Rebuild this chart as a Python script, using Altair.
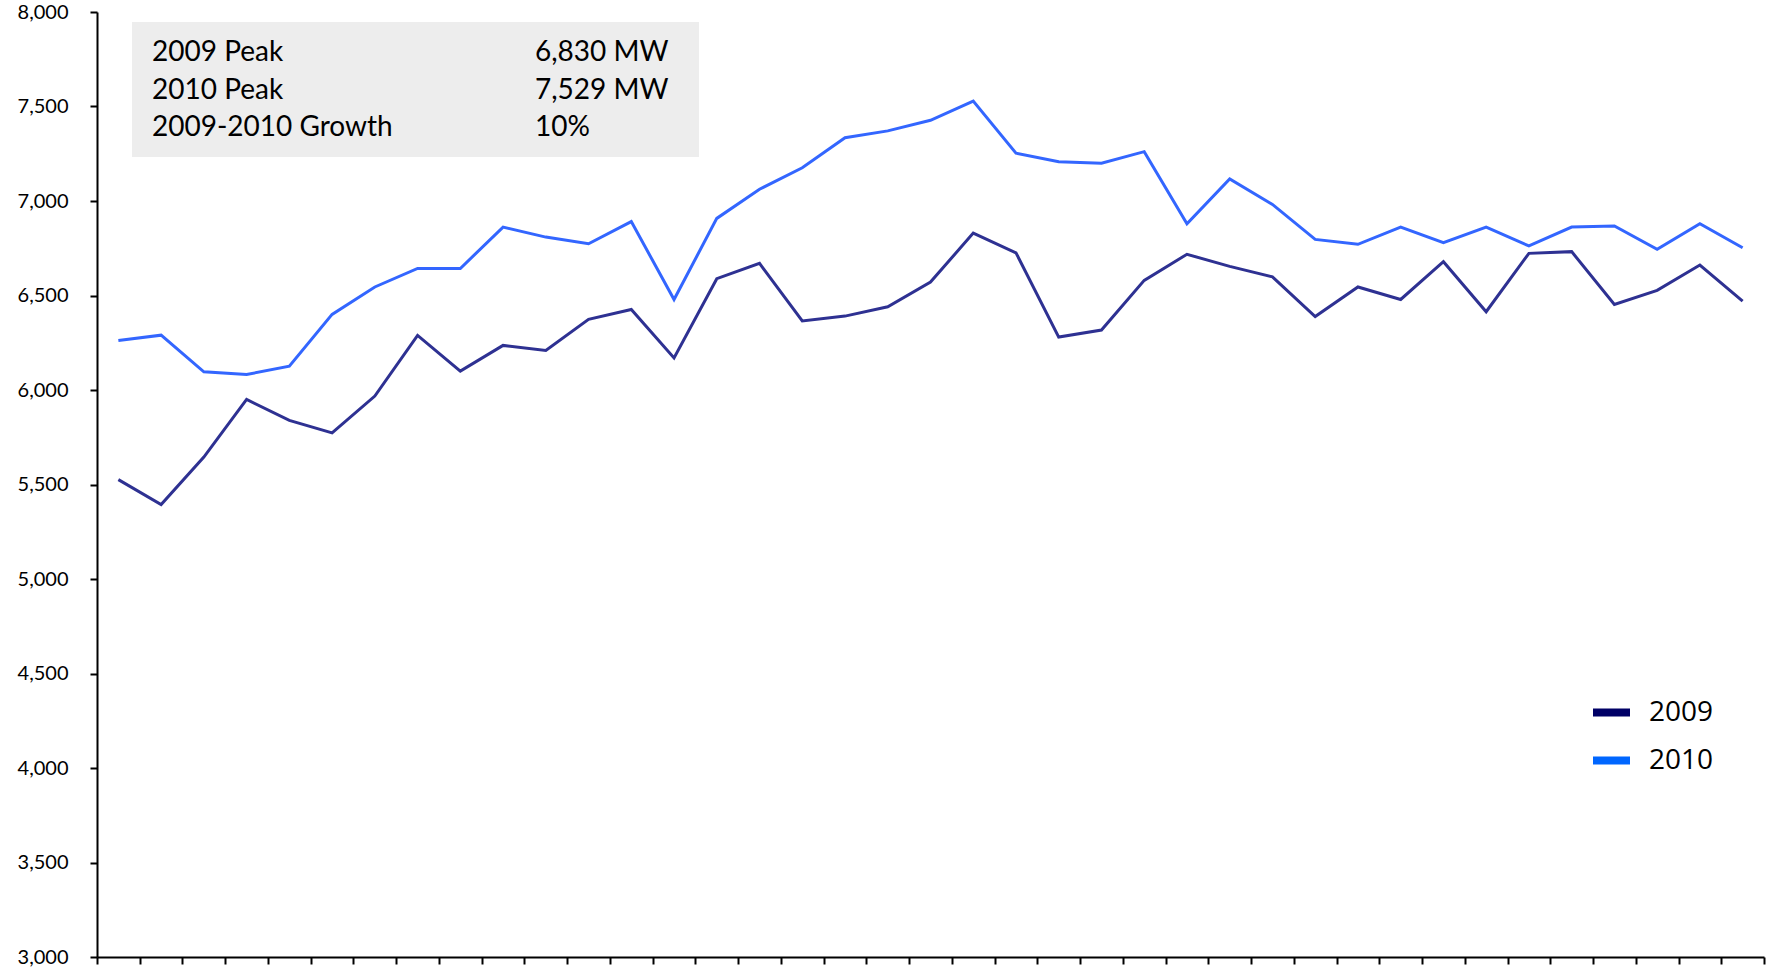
import altair as alt
import pandas as pd

# Weekly peak demand (MW), one value per week of the season
weeks = list(range(1, 40))
load_2009 = [5526, 5394, 5645, 5950, 5839, 5773, 5968, 6289, 6100, 6236,
             6209, 6374, 6426, 6170, 6589, 6670, 6365, 6391, 6440, 6571,
             6830, 6726, 6280, 6317, 6580, 6718, 6654, 6599, 6389, 6545,
             6479, 6679, 6414, 6723, 6732, 6453, 6527, 6661, 6470]
load_2010 = [6262, 6290, 6096, 6082, 6126, 6400, 6545, 6643, 6643, 6862,
             6809, 6774, 6891, 6479, 6908, 7062, 7176, 7335, 7371, 7427,
             7529, 7253, 7208, 7200, 7261, 6880, 7117, 6982, 6797, 6771,
             6862, 6779, 6862, 6762, 6862, 6868, 6744, 6880, 6753]
series = ["2009", "2010"]
line_colors = ["#2E3192", "#3366FF"]
legend_colors = ["#000066", "#0066FF"]
y_ticks = list(range(3000, 8001, 500))
x_ticks = [w - 0.5 for w in weeks] + [weeks[-1] + 0.5]

df = pd.DataFrame({
    "week": weeks * 2,
    "load": load_2009 + load_2010,
    "year": [series[0]] * len(weeks) + [series[1]] * len(weeks),
})

# Summary box contents derived from the series
peak_2009 = max(load_2009)
peak_2010 = max(load_2010)
growth = round((peak_2010 - peak_2009) / peak_2009 * 100)
summary = pd.DataFrame({
    "names": ["2009 Peak\n2010 Peak\n2009-2010 Growth"],
    "values": [f"{peak_2009:,} MW\n{peak_2010:,} MW\n{growth}%"],
})

W, H = 1667, 945

x_enc = alt.X("week:Q",
              scale=alt.Scale(domain=[0.5, weeks[-1] + 0.5], nice=False, zero=False),
              axis=alt.Axis(values=x_ticks, labels=False, title=None, grid=False,
                            tickSize=7, tickWidth=2, tickColor="black",
                            domainColor="black", domainWidth=2))
y_enc = alt.Y("load:Q",
              scale=alt.Scale(domain=[3000, 8000], nice=False, zero=False),
              axis=alt.Axis(values=y_ticks, format=",.0f", title=None, grid=False,
                            tickSize=7, tickWidth=2, tickColor="black",
                            domainColor="black", domainWidth=2,
                            labelFont="Lato", labelFontSize=20, labelColor="black",
                            labelPadding=22))

lines = alt.Chart(df).mark_line(strokeWidth=3).encode(
    x=x_enc, y=y_enc,
    color=alt.Color("year:N", scale=alt.Scale(domain=series, range=line_colors),
                    legend=None),
)

# Invisible copy of the lines that carries the legend swatches
legend_layer = alt.Chart(df).mark_line(opacity=0).encode(
    x=x_enc, y=y_enc,
    color=alt.Color("year:N",
                    scale=alt.Scale(domain=series, range=legend_colors),
                    legend=alt.Legend(
                        title=None, orient="none", legendX=1492, legendY=678,
                        symbolType="stroke", symbolStrokeWidth=8, symbolSize=1369,
                        symbolOpacity=1,
                        labelFont="Open Sans", labelFontSize=28, labelColor="black",
                        labelOffset=15, rowPadding=9, padding=0)),
)

box = alt.Chart(summary).mark_rect(color="#EDEDED").encode(
    x=alt.value(35), x2=alt.value(602), y=alt.value(10), y2=alt.value(145)
)

names = alt.Chart(summary).mark_text(
    align="left", baseline="middle", lineBreak="\n", lineHeight=37.5,
    font="Lato", fontSize=28, color="black"
).encode(x=alt.value(55), y=alt.value(41), text="names:N")

values = alt.Chart(summary).mark_text(
    align="left", baseline="middle", lineBreak="\n", lineHeight=37.5,
    font="Lato", fontSize=28, color="black"
).encode(x=alt.value(438), y=alt.value(41), text="values:N")

chart = alt.layer(box, names, values, legend_layer, lines).resolve_scale(
    color="independent"
).properties(
    width=W, height=H,
    autosize=alt.AutoSizeParams(type="none"),
    padding={"left": 97, "top": 12, "right": 3, "bottom": 16},
    background="white",
).configure_view(stroke=None)

chart.save("out.html", embed_options={"renderer": "svg", "actions": False})
